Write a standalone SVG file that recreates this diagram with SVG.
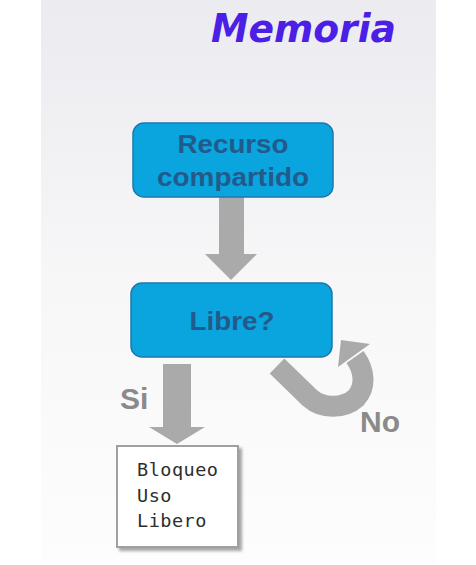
<svg xmlns="http://www.w3.org/2000/svg" width="476" height="565" viewBox="0 0 476 565">
<defs>
<linearGradient id="bg" x1="0" y1="0" x2="0" y2="1">
<stop offset="0" stop-color="#ebebf0"/>
<stop offset="0.5" stop-color="#f7f7f8"/>
<stop offset="1" stop-color="#fdfdfd"/>
</linearGradient>
<filter id="sh" x="-10%" y="-10%" width="130%" height="130%">
<feGaussianBlur in="SourceAlpha" stdDeviation="1.5"/>
<feOffset dx="2.5" dy="2.5"/>
<feComponentTransfer><feFuncA type="linear" slope="0.35"/></feComponentTransfer>
<feMerge><feMergeNode/><feMergeNode in="SourceGraphic"/></feMerge>
</filter>
</defs>
<style>
.box{fill:#0aa5de;stroke:#1d78ad;stroke-width:1.5}
.bt{font-family:"Liberation Sans",Arial,sans-serif;font-weight:bold;font-size:26px;fill:#215a8b;text-anchor:middle}
.arr{fill:#aaaaaa}
.lbl{font-family:"Liberation Sans",Arial,sans-serif;font-weight:bold;font-size:30px;fill:#8a8a8a}
.mono{font-family:"DejaVu Sans Mono","Liberation Mono",monospace;font-size:18.5px;fill:#2e2e2e;letter-spacing:0.5px}
</style>
<rect x="0" y="0" width="476" height="565" fill="#ffffff"/>
<rect x="41" y="0" width="395" height="565" fill="url(#bg)"/>
<text x="211" y="42" font-family="DejaVu Sans,Verdana,sans-serif" font-weight="bold" font-style="italic" font-size="39" fill="#4c1fe6" textLength="185" lengthAdjust="spacingAndGlyphs">Memoria</text>

<g id="connectors">
<polygon class="arr" points="219,197 244,197 244,254 257,254 231,280 205,254 219,254"/>
<polygon class="arr" points="163,364 191,364 191,427 205,427 177,444 149,427 163,427"/>
<path d="M277,366 L310,398 C322,409 344,409 356,398 C366,387 365,371 355,357" fill="none" stroke="#aaaaaa" stroke-width="21"/>
<polygon class="arr" points="341,340 370,344 338,367"/>
<text class="lbl" x="120" y="409">Si</text>
<text class="lbl" x="360" y="432">No</text>
</g>

<g id="recurso">
<rect class="box" x="133" y="123" width="200" height="74" rx="11"/>
<text class="bt" x="233" y="153" textLength="111" lengthAdjust="spacingAndGlyphs">Recurso</text>
<text class="bt" x="233" y="186" textLength="152" lengthAdjust="spacingAndGlyphs">compartido</text>
</g>

<g id="libre">
<rect class="box" x="131" y="283" width="201" height="74" rx="11"/>
<text class="bt" x="232" y="330" textLength="85" lengthAdjust="spacingAndGlyphs">Libre?</text>
</g>

<g id="acciones">
<rect x="117" y="446" width="121" height="101" fill="#ffffff" stroke="#a0a0a0" stroke-width="2" filter="url(#sh)"/>
<text class="mono" x="137" y="476">Bloqueo</text>
<text class="mono" x="137" y="501.5">Uso</text>
<text class="mono" x="137" y="527">Libero</text>
</g>
</svg>
